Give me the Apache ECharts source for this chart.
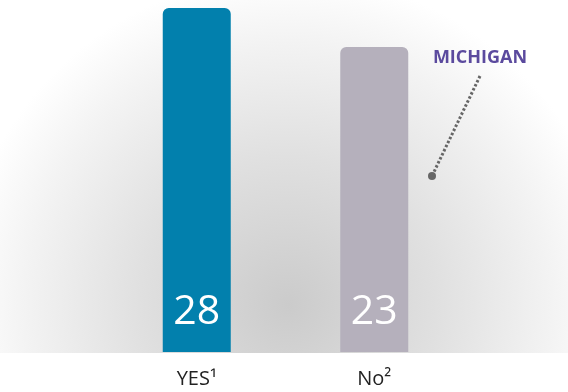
<!DOCTYPE html>
<html>
<head>
<meta charset="utf-8">
<script src="https://cdn.jsdelivr.net/npm/echarts@6/dist/echarts.min.js"></script>
<style>html,body{margin:0;padding:0;background:#fff;}#c{width:568px;height:392px;}</style>
</head>
<body>
<div id="c"></div>
<script>
var categories = ['YES\u00B9', 'No\u00B2'];
var values = [28, 23];
var barColors = ['#0280ad', '#b5b0bc'];
var annotationText = 'MICHIGAN';

var AXIS_MIN = -16, AXIS_MAX = 28;
var chart = echarts.init(document.getElementById('c'), null, {renderer: 'canvas'});
chart.setOption({
  animation: false,
  backgroundColor: '#ffffff',
  grid: {left: 108, right: 105, top: 8, bottom: 40},
  xAxis: {
    type: 'category',
    data: categories,
    axisLine: {show: false},
    axisTick: {show: false},
    axisLabel: {fontFamily: 'Open Sans', fontSize: 20, color: '#222', margin: 17}
  },
  yAxis: {
    type: 'value', min: AXIS_MIN, max: AXIS_MAX,
    show: false, splitLine: {show: false}
  },
  graphic: [
    {
      type: 'rect', z: -10, silent: true,
      shape: {x: 0, y: 0, width: 568, height: 353},
      style: {
        fill: new echarts.graphic.RadialGradient(288, 305, 330, [
          {offset: 0, color: '#cbcbcb'},
          {offset: 0.45, color: '#e0e0e0'},
          {offset: 0.8, color: '#f3f3f3'},
          {offset: 1, color: '#ffffff'}
        ], true)
      }
    },
    {
      type: 'line', z: 10, silent: true,
      shape: {x1: 480, y1: 76, x2: 432, y2: 176},
      style: {stroke: '#666', lineWidth: 3, lineDash: [2.5, 2]}
    },
    {
      type: 'circle', z: 10, silent: true,
      shape: {cx: 432, cy: 176, r: 4},
      style: {fill: '#666'}
    },
    {
      type: 'text', z: 10, silent: true,
      x: 480, y: 58,
      style: {
        text: annotationText, fill: '#5b4a9e',
        font: 'bold 18px "Open Sans"',
        align: 'center', verticalAlign: 'middle'
      }
    }
  ],
  series: [{
    type: 'custom',
    data: values.map(function (v, i) { return [i, v]; }),
    encode: {x: 0, y: 1},
    renderItem: function (params, api) {
      var i = api.value(0);
      var v = api.value(1);
      var top = api.coord([i, v]);
      var base = api.coord([i, AXIS_MIN]);
      var w = 68;
      return {
        type: 'group',
        children: [
          {
            type: 'rect',
            shape: {x: top[0] - w / 2, y: top[1], width: w, height: base[1] - top[1], r: [6, 6, 0, 0]},
            style: {fill: barColors[params.dataIndex]}
          },
          {
            type: 'text',
            x: top[0], y: base[1] - 40,
            style: {
              text: String(v), fill: '#ffffff',
              font: '400 41px "Open Sans"',
              align: 'center', verticalAlign: 'middle'
            }
          }
        ]
      };
    }
  }]
});
</script>
</body>
</html>
